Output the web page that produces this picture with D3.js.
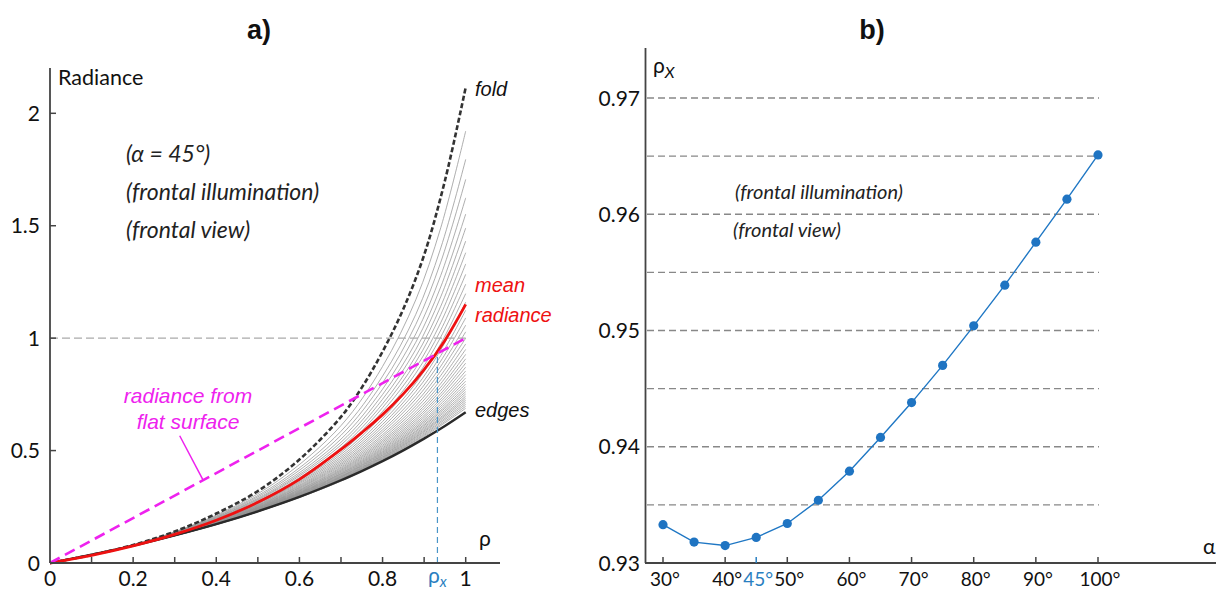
<!DOCTYPE html>
<html>
<head>
<meta charset="utf-8">
<script src="https://cdn.jsdelivr.net/npm/d3@7"></script>
<style>
  html, body { margin: 0; padding: 0; background: #fff; }
  svg { display: block; }
</style>
</head>
<body>
<svg id="chart" width="1216" height="589"></svg>
<script>
// ---------------- DATA (panel a) ----------------
const rhoGrid       = [0, 0.1, 0.2, 0.3, 0.4, 0.5, 0.6, 0.7, 0.75, 0.8, 0.85, 0.9, 0.95, 1.0];
const foldRadiance  = [0, 0.036, 0.080, 0.140, 0.220, 0.320, 0.460, 0.650, 0.780, 0.940, 1.130, 1.370, 1.700, 2.115];
const meanRadiance  = [0, 0.034, 0.076, 0.127, 0.190, 0.270, 0.372, 0.505, 0.580, 0.660, 0.752, 0.860, 0.990, 1.150];
const edgeRadiance  = [0, 0.037, 0.077, 0.123, 0.173, 0.230, 0.294, 0.368, 0.409, 0.453, 0.501, 0.553, 0.609, 0.670];
const flatRho       = [0, 1];
const flatRadiance  = [0, 1];
const rhoX          = 0.932;

// intermediate positions between the fold and the edges (thin grey lines)
const grayRho = [0, 0.2, 0.4, 0.55, 0.7, 0.8, 0.88, 0.94, 1.0];
const grayLines = [
  [0,.080,.213,.368,.611,.874,1.171,1.491,1.921],
  [0,.079,.209,.357,.586,.831,1.106,1.401,1.795],
  [0,.079,.206,.349,.568,.801,1.061,1.338,1.706],
  [0,.079,.203,.341,.551,.773,1.019,1.279,1.624],
  [0,.078,.201,.335,.537,.749,.982,1.228,1.552],
  [0,.078,.198,.330,.525,.728,.950,1.184,1.490],
  [0,.078,.196,.324,.513,.708,.920,1.142,1.432],
  [0,.078,.195,.320,.502,.691,.894,1.105,1.380],
  [0,.078,.193,.315,.492,.674,.868,1.069,1.330],
  [0,.078,.191,.311,.483,.658,.844,1.036,1.284],
  [0,.078,.190,.308,.474,.643,.822,1.005,1.240],
  [0,.078,.188,.304,.466,.629,.800,.975,1.198],
  [0,.077,.187,.300,.458,.616,.781,.948,1.160],
  [0,.077,.186,.297,.451,.604,.763,.922,1.124],
  [0,.077,.185,.294,.444,.592,.745,.898,1.090],
  [0,.077,.183,.291,.438,.582,.729,.875,1.058],
  [0,.077,.182,.289,.432,.571,.713,.854,1.028],
  [0,.077,.181,.286,.426,.562,.699,.834,1.000],
  [0,.077,.181,.284,.421,.553,.686,.815,.974],
  [0,.077,.180,.282,.416,.545,.673,.798,.950],
  [0,.077,.179,.280,.412,.538,.662,.782,.928],
  [0,.077,.178,.278,.408,.531,.652,.768,.908],
  [0,.077,.178,.276,.404,.524,.642,.754,.889],
  [0,.077,.177,.275,.400,.518,.633,.742,.871],
  [0,.077,.176,.273,.397,.512,.624,.729,.854],
  [0,.077,.176,.272,.394,.507,.616,.718,.838],
  [0,.076,.175,.271,.391,.502,.608,.707,.823],
  [0,.076,.175,.269,.388,.497,.601,.697,.809],
  [0,.076,.174,.268,.385,.493,.595,.688,.796],
  [0,.076,.174,.267,.383,.489,.588,.679,.784],
  [0,.076,.174,.266,.381,.485,.583,.672,.773],
  [0,.076,.173,.265,.378,.481,.577,.664,.762],
  [0,.076,.173,.264,.376,.478,.572,.657,.752],
  [0,.076,.173,.263,.374,.474,.567,.649,.742],
  [0,.076,.172,.263,.373,.471,.562,.643,.733],
  [0,.076,.172,.262,.371,.468,.558,.637,.724],
  [0,.076,.172,.261,.369,.465,.553,.630,.715],
  [0,.076,.171,.260,.367,.462,.548,.624,.706],
  [0,.076,.171,.259,.365,.459,.544,.617,.697],
  [0,.076,.171,.259,.364,.456,.539,.611,.688]
];

const leftXTicks  = [0, 0.1, 0.2, 0.3, 0.4, 0.5, 0.6, 0.7, 0.8, 0.9, 1];
const leftXLabels = [0, 0.2, 0.4, 0.6, 0.8, 1];
const leftYTicks  = [0, 0.5, 1, 1.5, 2];

// ---------------- DATA (panel b) ----------------
const alphaDeg  = [30, 35, 40, 45, 50, 55, 60, 65, 70, 75, 80, 85, 90, 95, 100];
const rhoXByAlpha = [0.9333, 0.9318, 0.9315, 0.9322, 0.9334, 0.9354, 0.9379, 0.9408, 0.9438, 0.9470, 0.9504, 0.9539, 0.9576, 0.9613, 0.9651];
const alphaTicks = [30, 40, 50, 60, 70, 80, 90, 100];
const alphaHighlight = 45;
const rightYTicks = [0.93, 0.94, 0.95, 0.96, 0.97];
const rightGrid = [0.935, 0.94, 0.945, 0.95, 0.955, 0.96, 0.965, 0.97];

// ---------------- DRAWING ----------------
const svg = d3.select("#chart");
const tickFont = "Lato, 'Open Sans', sans-serif";
const annFont = "'Liberation Sans', Arial, sans-serif";
const blue = "#2a7fc1";
const axisCol = "#444";

// ===== Panel a =====
const xA = d3.scaleLinear().domain([0, 1]).range([50, 465.7]);
const yA = d3.scaleLinear().domain([0, 2]).range([563, 113.3]);
const gA = svg.append("g");

const lineA = (xs) => d3.line().x((d, i) => xA(xs[i])).y(d => yA(d)).curve(d3.curveCatmullRom.alpha(0.5));

// grey lines
gA.append("g").selectAll("path").data(grayLines).join("path")
  .attr("d", d => lineA(grayRho)(d))
  .attr("fill", "none").attr("stroke", "#939393").attr("stroke-width", 0.75);

// reference line at radiance = 1
gA.append("line")
  .attr("x1", xA(0)).attr("x2", xA(1)).attr("y1", yA(1)).attr("y2", yA(1))
  .attr("stroke", "#aaa").attr("stroke-width", 1.2).attr("stroke-dasharray", "8,4");

// edges
gA.append("path").attr("d", lineA(rhoGrid)(edgeRadiance))
  .attr("fill", "none").attr("stroke", "#2a2a2a").attr("stroke-width", 2.4);
// fold
gA.append("path").attr("d", lineA(rhoGrid)(foldRadiance))
  .attr("fill", "none").attr("stroke", "#333").attr("stroke-width", 2.6).attr("stroke-dasharray", "5,2.5");
// mean
gA.append("path").attr("d", lineA(rhoGrid)(meanRadiance))
  .attr("fill", "none").attr("stroke", "#ee1111").attr("stroke-width", 2.8);

// rho_x vertical
gA.append("line")
  .attr("x1", xA(rhoX)).attr("x2", xA(rhoX)).attr("y1", yA(0)).attr("y2", yA(rhoX))
  .attr("stroke", "#4a95c8").attr("stroke-width", 1.2).attr("stroke-dasharray", "6,4");

// flat surface
gA.append("path").attr("d", d3.line().x((d, i) => xA(flatRho[i])).y(d => yA(d))(flatRadiance))
  .attr("fill", "none").attr("stroke", "#ee22ee").attr("stroke-width", 2.6).attr("stroke-dasharray", "11,6");

// pointer for flat-surface label
gA.append("line")
  .attr("x1", xA(0.312)).attr("y1", yA(0.566)).attr("x2", xA(0.368)).attr("y2", yA(0.37))
  .attr("stroke", "#ee22ee").attr("stroke-width", 1.5);

// axes
gA.append("line").attr("x1", 50).attr("x2", 50).attr("y1", 68).attr("y2", yA(0))
  .attr("stroke", axisCol).attr("stroke-width", 1.8);
gA.append("line").attr("x1", 50).attr("x2", 500).attr("y1", yA(0)).attr("y2", yA(0))
  .attr("stroke", axisCol).attr("stroke-width", 1.8);
gA.append("g").selectAll("line").data(leftXTicks.filter(d => d > 0)).join("line")
  .attr("x1", d => xA(d)).attr("x2", d => xA(d)).attr("y1", yA(0)).attr("y2", yA(0) - 6)
  .attr("stroke", axisCol).attr("stroke-width", 1.5);
gA.append("g").selectAll("line").data(leftYTicks.filter(d => d > 0)).join("line")
  .attr("x1", 50).attr("x2", 56).attr("y1", d => yA(d)).attr("y2", d => yA(d))
  .attr("stroke", axisCol).attr("stroke-width", 1.5);
gA.append("g").selectAll("text").data(leftXLabels).join("text")
  .attr("x", d => xA(d)).attr("y", 586).attr("text-anchor", "middle")
  .attr("font-family", tickFont).attr("font-size", 21).attr("fill", "#111")
  .text(d => d);
gA.append("g").selectAll("text").data(leftYTicks).join("text")
  .attr("x", 40).attr("y", d => yA(d) + 7.5).attr("text-anchor", "end")
  .attr("font-family", tickFont).attr("font-size", 21).attr("fill", "#111")
  .text(d => d);

// rho_x label
const rxl = gA.append("text").attr("x", xA(rhoX)).attr("y", 583).attr("text-anchor", "middle")
  .attr("font-family", tickFont).attr("font-size", 21).attr("fill", blue);
rxl.append("tspan").text("ρ");
rxl.append("tspan").attr("font-size", 15).attr("font-style", "italic").attr("dy", 4).text("x");

gA.append("text").attr("x", 479).attr("y", 546).attr("font-family", tickFont).attr("font-size", 21)
  .attr("fill", "#111").text("ρ");
gA.append("text").attr("x", 58).attr("y", 85).attr("font-family", tickFont).attr("font-size", 21.5)
  .attr("fill", "#111").text("Radiance");

// panel a notes
const notesA = ["(α = 45°)", "(frontal illumination)", "(frontal view)"];
gA.append("g").selectAll("text").data(notesA).join("text")
  .attr("x", 126).attr("y", (d, i) => 162 + i * 38)
  .attr("font-family", tickFont).attr("font-size", 23).attr("font-style", "italic").attr("fill", "#222")
  .text(d => d);

// curve labels
gA.append("text").attr("x", 475).attr("y", 96).attr("font-family", annFont).attr("font-size", 20)
  .attr("font-style", "italic").attr("fill", "#111").text("fold");
gA.append("text").attr("x", 475).attr("y", 292).attr("font-family", annFont).attr("font-size", 20)
  .attr("font-style", "italic").attr("fill", "#ee1111").text("mean");
gA.append("text").attr("x", 475).attr("y", 322).attr("font-family", annFont).attr("font-size", 20)
  .attr("font-style", "italic").attr("fill", "#ee1111").text("radiance");
gA.append("text").attr("x", 475).attr("y", 417).attr("font-family", annFont).attr("font-size", 20)
  .attr("font-style", "italic").attr("fill", "#111").text("edges");
gA.append("text").attr("x", 188).attr("y", 403).attr("text-anchor", "middle").attr("font-family", annFont)
  .attr("font-size", 21).attr("font-style", "italic").attr("fill", "#ee22ee").text("radiance from");
gA.append("text").attr("x", 188).attr("y", 429).attr("text-anchor", "middle").attr("font-family", annFont)
  .attr("font-size", 21).attr("font-style", "italic").attr("fill", "#ee22ee").text("flat surface");

svg.append("text").attr("x", 259).attr("y", 39).attr("text-anchor", "middle")
  .attr("font-family", "'Liberation Sans', Arial, sans-serif").attr("font-weight", "bold").attr("font-size", 27)
  .attr("fill", "#111").text("a)");

// ===== Panel b =====
const xB = d3.scaleLinear().domain([30, 100]).range([663, 1098]);
const yB = d3.scaleLinear().domain([0.93, 0.97]).range([563, 98]);
const gB = svg.append("g");

gB.append("g").selectAll("line").data(rightGrid).join("line")
  .attr("x1", 647).attr("x2", 1099).attr("y1", d => yB(d)).attr("y2", d => yB(d))
  .attr("stroke", "#888").attr("stroke-width", 1.3).attr("stroke-dasharray", "7,4");

gB.append("line").attr("x1", 645.5).attr("x2", 645.5).attr("y1", 48).attr("y2", yB(0.93))
  .attr("stroke", axisCol).attr("stroke-width", 1.8);
gB.append("line").attr("x1", 645).attr("x2", 1216).attr("y1", yB(0.93)).attr("y2", yB(0.93))
  .attr("stroke", axisCol).attr("stroke-width", 1.8);
gB.append("g").selectAll("line").data(alphaTicks).join("line")
  .attr("x1", d => xB(d)).attr("x2", d => xB(d)).attr("y1", yB(0.93)).attr("y2", yB(0.93) - 6)
  .attr("stroke", axisCol).attr("stroke-width", 1.5);
gB.append("line").attr("x1", xB(alphaHighlight)).attr("x2", xB(alphaHighlight))
  .attr("y1", yB(0.93)).attr("y2", yB(0.93) - 6).attr("stroke", blue).attr("stroke-width", 1.5);

gB.append("g").selectAll("text").data(alphaTicks).join("text")
  .attr("x", d => xB(d) + 2).attr("y", 586).attr("text-anchor", "middle")
  .attr("font-family", tickFont).attr("font-size", 19).attr("fill", "#111")
  .text(d => d + "°");
gB.append("text").attr("x", xB(alphaHighlight) + 2).attr("y", 586).attr("text-anchor", "middle")
  .attr("font-family", tickFont).attr("font-size", 19).attr("fill", blue).text(alphaHighlight + "°");
gB.append("g").selectAll("text").data(rightYTicks).join("text")
  .attr("x", 640).attr("y", d => yB(d) + 7.5).attr("text-anchor", "end")
  .attr("font-family", tickFont).attr("font-size", 21).attr("fill", "#111")
  .text(d => d.toFixed(2));

// series
gB.append("path")
  .attr("d", d3.line().x((d, i) => xB(alphaDeg[i])).y(d => yB(d))(rhoXByAlpha))
  .attr("fill", "none").attr("stroke", "#1f77c4").attr("stroke-width", 1.4);
gB.append("g").selectAll("circle").data(rhoXByAlpha).join("circle")
  .attr("cx", (d, i) => xB(alphaDeg[i])).attr("cy", d => yB(d)).attr("r", 4.6)
  .attr("fill", "#1f74c2");

// labels
const rxb = gB.append("text").attr("x", 653).attr("y", 73).attr("font-family", tickFont)
  .attr("font-size", 21).attr("fill", "#111");
rxb.append("tspan").text("ρ");
rxb.append("tspan").attr("font-size", 16).attr("font-style", "italic").attr("dy", 5).text("X");
gB.append("text").attr("x", 1203).attr("y", 554).attr("font-family", tickFont).attr("font-size", 21)
  .attr("fill", "#111").text("α");

const notesB = ["(frontal illumination)", "(frontal view)"];
gB.append("g").selectAll("text").data(notesB).join("text")
  .attr("x", (d, i) => i === 0 ? 735 : 733).attr("y", (d, i) => 199 + i * 38)
  .attr("font-family", tickFont).attr("font-size", 20).attr("font-style", "italic").attr("fill", "#222")
  .text(d => d);

svg.append("text").attr("x", 872).attr("y", 39).attr("text-anchor", "middle")
  .attr("font-family", "'Liberation Sans', Arial, sans-serif").attr("font-weight", "bold").attr("font-size", 27)
  .attr("fill", "#111").text("b)");
</script>
</body>
</html>
